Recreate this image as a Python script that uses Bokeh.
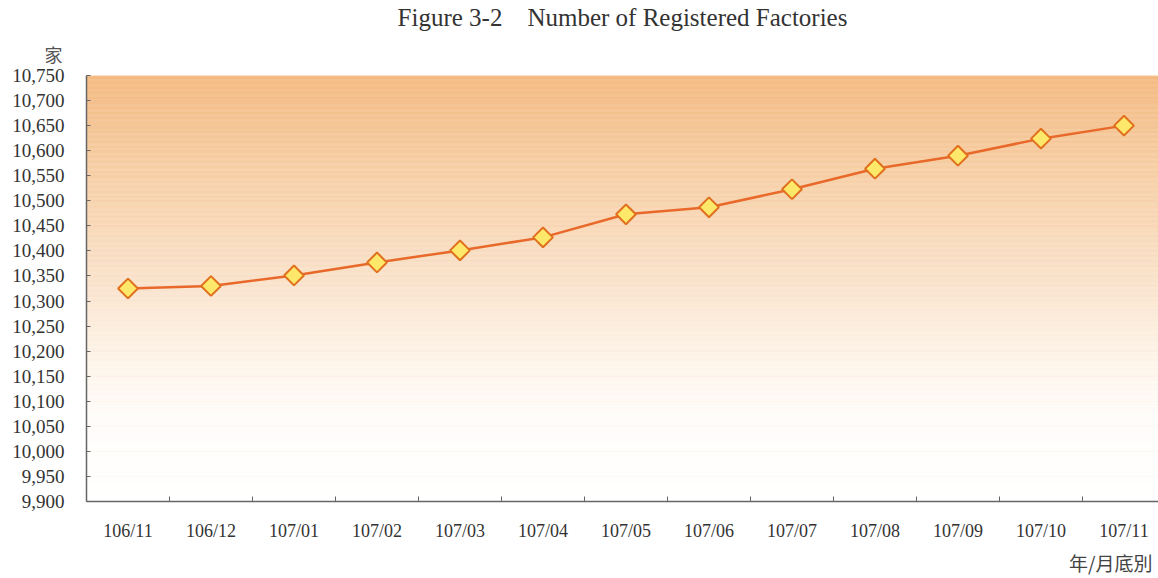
import numpy as np
from bokeh.plotting import figure
from bokeh.models import Range1d, FixedTicker, Title, NumeralTickFormatter
from bokeh.embed import file_html
from bokeh.resources import INLINE

months = ["106/11", "106/12", "107/01", "107/02", "107/03", "107/04", "107/05",
          "107/06", "107/07", "107/08", "107/09", "107/10", "107/11"]
factories = [10325, 10330, 10351, 10377, 10401, 10427, 10473,
             10487, 10523, 10564, 10590, 10624, 10650]
y_ticks = list(range(9900, 10751, 50))
title_text = "Figure 3-2\u00a0\u00a0\u00a0\u00a0Number of Registered Factories"
unit_text = "家"
xlabel_text = "年/月底別"

xs = list(range(len(months)))

p = figure(width=1158, height=578, output_backend="svg", toolbar_location=None,
           x_range=Range1d(-0.5, 12.416), y_range=Range1d(9900, 10750),
           min_border_left=86, min_border_right=0, min_border_top=75, min_border_bottom=77)
p.background_fill_color = "white"
p.border_fill_color = "white"
p.outline_line_color = None

# gradient background (decorative)
stops_v = [9900, 10061, 10181, 10341, 10580, 10750]
stops_c = [(255, 255, 255), (255, 253, 250), (254, 245, 234), (250, 226, 203), (246, 205, 162), (244, 186, 130)]
edges = np.linspace(9900, 10750, 341)
bot, top, cols = [], [], []
for a, b in zip(edges[:-1], edges[1:]):
    m = (a + b) / 2
    c = [int(round(np.interp(m, stops_v, [s[i] for s in stops_c]))) for i in range(3)]
    bot.append(a); top.append(b); cols.append("#%02x%02x%02x" % tuple(c))
p.quad(left=-1, right=14, bottom=bot, top=top, fill_color=cols, line_color=cols, line_width=0.5)

p.line(xs, factories, line_color="#e8692a", line_width=2.5)
p.scatter(xs, factories, marker="square", angle=np.pi / 4, size=14, fill_color="#fde86a",
          line_color="#e0701e", line_width=2)

# axes
p.xaxis.ticker = FixedTicker(ticks=xs, minor_ticks=[i + 0.5 for i in range(-1, 13)])
p.xaxis.major_label_overrides = {i: m for i, m in enumerate(months)}
p.xaxis.major_tick_line_color = None
p.xaxis.minor_tick_in = 5
p.xaxis.minor_tick_out = 0
p.xaxis.minor_tick_line_color = "#666666"
p.xaxis.axis_line_color = "#666666"
p.xaxis.axis_line_width = 1.5
p.xaxis.major_label_text_font = "Liberation Serif"
p.xaxis.major_label_text_font_size = "18px"
p.xaxis.major_label_text_color = "#333333"
p.xaxis.major_label_standoff = 13

p.yaxis.ticker = FixedTicker(ticks=y_ticks)
p.yaxis.formatter = NumeralTickFormatter(format="0,0")
p.yaxis.major_tick_in = 4
p.yaxis.major_tick_out = 0
p.yaxis.major_tick_line_color = "#666666"
p.yaxis.minor_tick_line_color = None
p.yaxis.axis_line_color = "#666666"
p.yaxis.axis_line_width = 1.5
p.yaxis.major_label_text_font = "Liberation Serif"
p.yaxis.major_label_text_font_size = "19px"
p.yaxis.major_label_text_color = "#333333"
p.yaxis.major_label_standoff = 22

p.xgrid.grid_line_color = None
p.ygrid.grid_line_color = "#eaa070"
p.ygrid.grid_line_alpha = 0.8
p.ygrid.grid_line_width = 1

# texts
p.add_layout(Title(text=unit_text, align="left", offset=-42, standoff=17,
                   text_font="Noto Sans CJK TC", text_font_size="18px",
                   text_font_style="normal", text_color="#555555"), "above")
p.add_layout(Title(text=title_text, align="center", standoff=0,
                   text_font="Liberation Serif", text_font_size="25px",
                   text_font_style="normal", text_color="#333333"), "above")
p.add_layout(Title(text=xlabel_text, align="right", offset=6, standoff=6,
                   text_font="Noto Sans CJK TC", text_font_size="19px",
                   text_font_style="normal", text_color="#444444"), "below")

open("out.html", "w").write(file_html(p, INLINE))
